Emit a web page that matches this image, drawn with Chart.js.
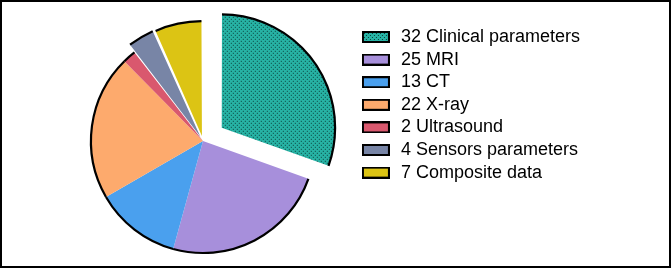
<!DOCTYPE html>
<html>
<head>
<meta charset="utf-8">
<script src="https://cdn.jsdelivr.net/npm/chart.js@4.4.1/dist/chart.umd.min.js"></script>
<style>
  html, body { margin: 0; padding: 0; background: #fff; }
  #wrap { position: relative; width: 671px; height: 268px; overflow: hidden; }
  #c { position: absolute; left: 0; top: 0; }
  #frame { position: absolute; left: 0; top: 0; width: 671px; height: 268px; box-sizing: border-box; border: 2px solid #000; pointer-events: none; }
</style>
</head>
<body>
<div id="wrap">
  <canvas id="c" width="671" height="268"></canvas>
  <div id="frame"></div>
</div>
<script>
// ---- data ----
const categories = ['Clinical parameters', 'MRI', 'CT', 'X-ray', 'Ultrasound', 'Sensors parameters', 'Composite data'];
const counts = [32, 25, 13, 22, 2, 4, 7];

// ---- styles ----
const sliceColors = ['#27b3a5', '#a78fdb', '#4aa0ee', '#fdaa6d', '#d9586e', '#7885a6', '#dcc414'];
const sliceOffsets = [92, 0, 0, 0, 0, 20, 20];

function dotPattern(base) {
  const t = document.createElement('canvas');
  t.width = 4; t.height = 4;
  const g = t.getContext('2d');
  g.fillStyle = base; g.fillRect(0, 0, 4, 4);
  g.fillStyle = '#0b3f3a';
  g.fillRect(0, 0, 1, 1);
  g.fillRect(2, 2, 1, 1);
  return document.createElement('canvas').getContext('2d').createPattern(t, 'repeat');
}
const ctx = document.getElementById('c').getContext('2d');
const tealPattern = ctx.createPattern((() => {
  const t = document.createElement('canvas');
  t.width = 4; t.height = 4;
  const g = t.getContext('2d');
  g.fillStyle = sliceColors[0]; g.fillRect(0, 0, 4, 4);
  g.fillStyle = '#0b3f3a';
  g.fillRect(0, 0, 1, 1);
  g.fillRect(2, 2, 1, 1);
  return t;
})(), 'repeat');
const fills = sliceColors.map((c, i) => i === 0 ? tealPattern : c);

function swatch(fill) {
  const c = document.createElement('canvas');
  c.width = 28; c.height = 12;
  const g = c.getContext('2d');
  g.fillStyle = fill;
  g.fillRect(1, 1, 26, 10);
  g.lineWidth = 2;
  g.strokeStyle = '#000';
  g.strokeRect(1, 1, 26, 10);
  return c;
}
const swatches = fills.map(f => swatch(f));

const outerRim = {
  id: 'outerRim',
  afterDatasetsDraw(chart) {
    const meta = chart.getDatasetMeta(0);
    const c = chart.ctx;
    meta.data.forEach(arc => {
      const p = arc.getProps(['x', 'y', 'startAngle', 'endAngle', 'outerRadius', 'circumference'], true);
      const off = (arc.options.offset || 0) / 4;
      const half = (p.startAngle + p.endAngle) / 2;
      const fix = 1 - Math.sin(Math.min(Math.PI, p.circumference || 0));
      const ro = off * fix;
      const R = p.outerRadius + ro;
      const alpha = p.endAngle - p.startAngle;
      const beta = Math.max(0.001, alpha * R - ro / Math.PI) / R;
      const ao = (alpha - beta) / 2;
      c.save();
      c.translate(Math.cos(half) * off, Math.sin(half) * off);
      c.beginPath();
      c.arc(p.x, p.y, R, p.startAngle + ao, p.endAngle - ao);
      c.lineWidth = 2.2;
      c.strokeStyle = '#000';
      c.stroke();
      c.restore();
    });
  }
};

new Chart(ctx, {
  type: 'pie',
  data: {
    labels: categories,
    datasets: [{
      data: counts,
      backgroundColor: fills,
      borderWidth: 0,
      offset: sliceOffsets,
      hoverOffset: 0
    }]
  },
  options: {
    responsive: false,
    animation: false,
    radius: 112,
    layout: { padding: { left: 50.6, right: 81, top: 23.4, bottom: 9.4 } },
    plugins: {
      tooltip: { enabled: false },
      legend: {
        position: 'right',
        align: 'start',
        labels: {
          usePointStyle: true,
          pointStyleWidth: 32,
          boxHeight: 12,
          padding: 4.6,
          color: '#000',
          font: { family: "Arial, 'Liberation Sans', sans-serif", size: 18 },
          generateLabels() {
            return categories.map((name, i) => ({
              text: counts[i] + ' ' + name,
              pointStyle: swatches[i],
              fillStyle: sliceColors[i],
              strokeStyle: '#000',
              lineWidth: 2,
              hidden: false,
              index: i,
              datasetIndex: 0
            }));
          }
        }
      }
    }
  },
  plugins: [outerRim]
});
</script>
</body>
</html>
